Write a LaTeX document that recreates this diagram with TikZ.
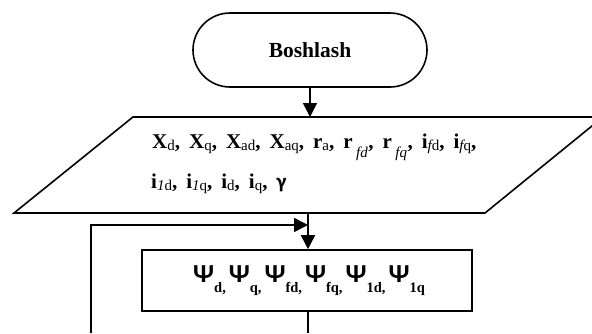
\documentclass[tikz,border=0pt]{standalone}
\usepackage{fontspec}
\setmainfont{Liberation Serif}
\newfontfamily\grk{Carlito}
\usetikzlibrary{arrows.meta}
\newcommand\sbr[1]{\raisebox{-2.5pt}{\fontsize{15}{15}\selectfont\mdseries #1}}
\newcommand\sblow[1]{\raisebox{-9pt}{\fontsize{15}{15}\selectfont\mdseries\itshape #1}}
\newcommand\psub[1]{\raisebox{-10pt}{\fontsize{14.5}{14.5}\selectfont\bfseries #1}}
\newcommand\mypsi{{\grk\fontsize{26}{28}\selectfont\bfseries Ψ}}
\newcommand\widesp{\spaceskip=9pt\relax}
\begin{document}
\begin{tikzpicture}[x=1pt,y=1pt,
  shape line/.style={line width=1.6pt},
  flow/.style={line width=1.6pt,-{Triangle[length=14pt,width=14pt]}},
  txt/.style={font=\fontsize{21}{24}\selectfont\bfseries, inner sep=0pt, anchor=base west}]
\useasboundingbox (0,0) rectangle (592,-333);
% terminal
\node[shape line, draw, rounded corners=37pt, minimum width=234pt, minimum height=74pt,
  font=\fontsize{21.5}{24}\selectfont\bfseries] (start) at (310,-50) {Boshlash};
% parallelogram
\coordinate (p1) at (133,-117);
\coordinate (p2) at (603,-117);
\coordinate (p3) at (485,-213);
\coordinate (p4) at (14,-213);
\draw[shape line] (p1) -- (p2) -- (p3) -- (p4) -- cycle;
\coordinate (intop) at (310,-117);
\coordinate (inbot) at (308,-213);
\node[txt] (l1) at (152,-148)
 {\widesp X\sbr{d}, X\sbr{q}, X\sbr{ad}, X\sbr{aq}, r\sbr{a}, r\,\sblow{fd}\kern0.5pt, r\,\sblow{fq}\kern0.5pt, i\sbr{\itshape f\upshape d}, i\sbr{\itshape f\upshape q},};
\node[txt] (l2) at (151,-188)
 {\widesp i\sbr{\itshape 1\upshape d}, i\sbr{\itshape 1\upshape q}, i\sbr{d}, i\sbr{q}, {\grk γ}};
% process
\node[shape line, draw, minimum width=330pt, minimum height=61pt, inner sep=0pt] (proc) at (307,-280.5) {};
\node[txt] (psis) at (193,-282)
 {\mypsi\psub{d,}\hspace{3pt}\mypsi\psub{q,}\hspace{3pt}\mypsi\psub{fd,}\hspace{3pt}\mypsi\psub{fq,}\hspace{3pt}\mypsi\psub{1d,}\hspace{3pt}\mypsi\psub{1q}};
\coordinate (loopin) at (308,-225);
\coordinate (lb) at (91,-333);
\coordinate (lc) at (91,-225);
\coordinate (out) at (308,-333);
% connectors
\draw[flow] (start.south -| intop) -- (intop);
\draw[flow] (inbot) -- (inbot |- proc.north);
\draw[flow] (lb) -- (lc) -- (loopin);
\draw[shape line] (proc.south -| out) -- (out);
\end{tikzpicture}
\end{document}
